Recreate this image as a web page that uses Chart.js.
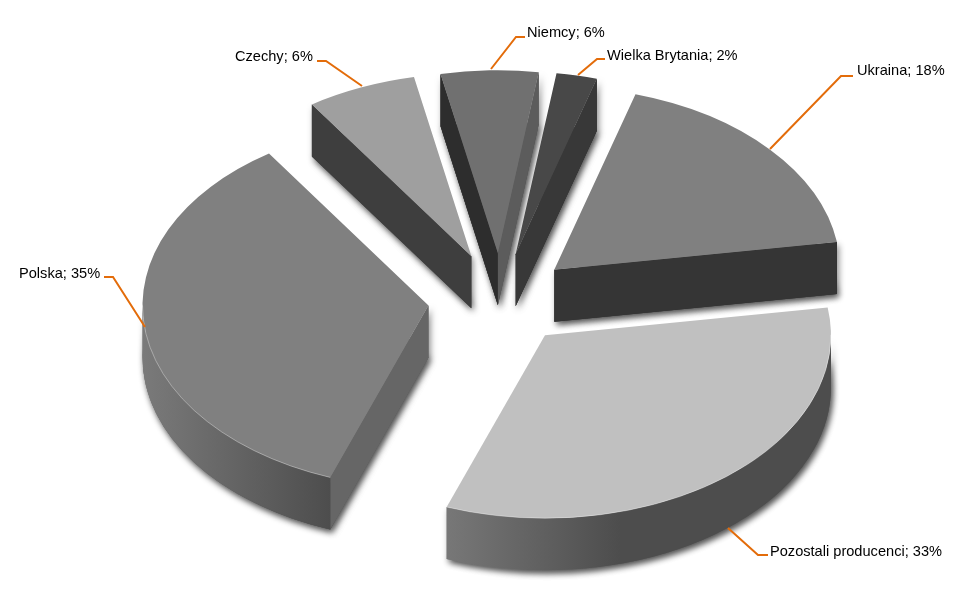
<!DOCTYPE html>
<html>
<head>
<meta charset="utf-8">
<style>
html, body { margin: 0; padding: 0; background: #fff; }
#wrap { width: 980px; height: 600px; }
</style>
<script src="https://cdn.jsdelivr.net/npm/chart.js@4"></script>
</head>
<body>
<div id="wrap"><canvas id="pieChart" width="980" height="600"></canvas></div>
<script>
// Dane z wykresu (opisy zaokrąglone do pełnych procentów)
const categories = ['Ukraina', 'Pozostali producenci', 'Polska', 'Czechy', 'Niemcy', 'Wielka Brytania'];
const shares = [18, 33, 35, 6.2, 5.5, 2.3];

// Kolory
const topColors = ['#808080', '#c0c0c0', '#808080', '#9f9f9f', '#707070', '#484848'];
const startFaceColors = ['#353535', '#5a5a5a', '#666666', '#3e3e3e', '#2d2d2d', '#383838'];
const endFaceColors = ['#353535', '#5a5a5a', '#666666', '#3e3e3e', '#5c5c5c', '#383838'];
const wallGradients = [null, [448, 620, '#777777', '#4d4d4d'], [143, 331, '#7a7a7a', '#4d4d4d'], null, null, null];

// Opisy: pozycja tekstu i linia odniesienia
const labelPos = [[857, 71], [770, 552], [19, 274], [235, 57], [527, 33], [607, 56]];
const leaders = [
    [[770, 149], [841, 76], [853, 76]],
    [[728, 528], [758, 555], [768, 555]],
    [[145, 327], [113, 277], [104, 277]],
    [[362, 86], [326, 61], [317, 61]],
    [[491, 69], [516, 37], [525, 37]],
    [[578, 75], [597, 59], [605, 59]]
];

const squash = 0.64;    // spłaszczenie elipsy
const explode = [72, 71, 72, 74, 73, 73];   // odsunięcie wycinków
const depth = 52;       // grubość

function sliceGeom(arc, i) {
    const mid = (arc.startAngle + arc.endAngle) / 2;
    const ox = arc.x + Math.cos(mid) * explode[i];
    const oy = arc.y + Math.sin(mid) * explode[i] * squash;
    const r = arc.outerRadius;
    return {
        ox, oy, r,
        at: a => [ox + r * Math.cos(a), oy + r * Math.sin(a) * squash]
    };
}

function drawTop(ctx, arc, g, lift) {
    // element łuku rysuje sam siebie, tylko w spłaszczonym układzie
    ctx.save();
    ctx.translate(g.ox, g.oy + lift);
    ctx.scale(1, squash);
    ctx.translate(-arc.x, -arc.y);
    arc.draw(ctx);
    ctx.restore();
}

function quad(ctx, a, b) {
    ctx.beginPath();
    ctx.moveTo(a[0], a[1]);
    ctx.lineTo(b[0], b[1]);
    ctx.lineTo(b[0], b[1] + depth);
    ctx.lineTo(a[0], a[1] + depth);
    ctx.closePath();
}

// fragmenty łuku widoczne od strony patrzącego (dolna połowa elipsy)
function frontRanges(arc) {
    const out = [];
    for (let n = -1; n <= 1; n++) {
        const s = Math.max(arc.startAngle, n * 2 * Math.PI);
        const e = Math.min(arc.endAngle, n * 2 * Math.PI + Math.PI);
        if (e > s) out.push([s, e]);
    }
    return out;
}

function wallPath(ctx, g, s, e) {
    ctx.beginPath();
    ctx.ellipse(g.ox, g.oy, g.r, g.r * squash, 0, s, e);
    ctx.ellipse(g.ox, g.oy + depth, g.r, g.r * squash, 0, e, s, true);
    ctx.closePath();
}

function drawSides(ctx, arc, g, i) {
    const p = [g.ox, g.oy];
    if (Math.sin(arc.startAngle - Math.PI / 2) > 0) {
        ctx.fillStyle = startFaceColors[i];
        quad(ctx, p, g.at(arc.startAngle));
        ctx.fill();
    }
    if (Math.sin(arc.endAngle + Math.PI / 2) > 0) {
        ctx.fillStyle = endFaceColors[i];
        quad(ctx, p, g.at(arc.endAngle));
        ctx.fill();
    }
    if (wallGradients[i]) {
        const w = wallGradients[i];
        const grad = ctx.createLinearGradient(w[0], 0, w[1], 0);
        grad.addColorStop(0, w[2]);
        grad.addColorStop(1, w[3]);
        frontRanges(arc).forEach(r => {
            ctx.fillStyle = grad;
            wallPath(ctx, g, r[0], r[1]);
            ctx.fill();
        });
    }
}

const pie3d = {
    id: 'pie3d',
    beforeDatasetDraw(chart, args) {
        const ctx = chart.ctx;
        const arcs = args.meta.data;

        // cień pod wszystkimi wycinkami
        ctx.save();
        ctx.shadowColor = 'rgba(0,0,0,0.45)';
        ctx.shadowBlur = 6;
        ctx.shadowOffsetX = 2;
        ctx.shadowOffsetY = 3;
        arcs.forEach((arc, i) => {
            const g = sliceGeom(arc, i);
            drawTop(ctx, arc, g, depth);
            drawSides(ctx, arc, g, i);
        });
        ctx.restore();

        arcs.forEach((arc, i) => {
            const g = sliceGeom(arc, i);
            drawSides(ctx, arc, g, i);
            drawTop(ctx, arc, g, 0);
            // jasna krawędź na dolnym brzegu
            ctx.save();
            ctx.strokeStyle = 'rgba(255,255,255,0.35)';
            ctx.lineWidth = 1;
            frontRanges(arc).forEach(r => {
                ctx.beginPath();
                ctx.ellipse(g.ox, g.oy, g.r, g.r * squash, 0, r[0], r[1]);
                ctx.stroke();
            });
            ctx.restore();
        });
        return false;
    },
    afterDraw(chart) {
        const ctx = chart.ctx;
        ctx.save();
        ctx.strokeStyle = '#e36c0a';
        ctx.lineWidth = 2;
        leaders.forEach(pts => {
            ctx.beginPath();
            pts.forEach((p, k) => k ? ctx.lineTo(p[0], p[1]) : ctx.moveTo(p[0], p[1]));
            ctx.stroke();
        });
        ctx.fillStyle = '#000';
        ctx.font = '14.6px "Liberation Sans"';
        ctx.textBaseline = 'middle';
        categories.forEach((c, i) => {
            ctx.fillText(c + '; ' + Math.round(shares[i]) + '%', labelPos[i][0], labelPos[i][1]);
        });
        ctx.restore();
    }
};

new Chart(document.getElementById('pieChart').getContext('2d'), {
    type: 'pie',
    data: {
        labels: categories,
        datasets: [{
            data: shares,
            backgroundColor: topColors,
            borderWidth: 0
        }]
    },
    options: {
        responsive: false,
        animation: false,
        devicePixelRatio: 1,
        rotation: 16.5,
        radius: 286,
        layout: { padding: { left: 20 } },
        plugins: { legend: { display: false }, tooltip: { enabled: false } }
    },
    plugins: [pie3d]
});
</script>
</body>
</html>
